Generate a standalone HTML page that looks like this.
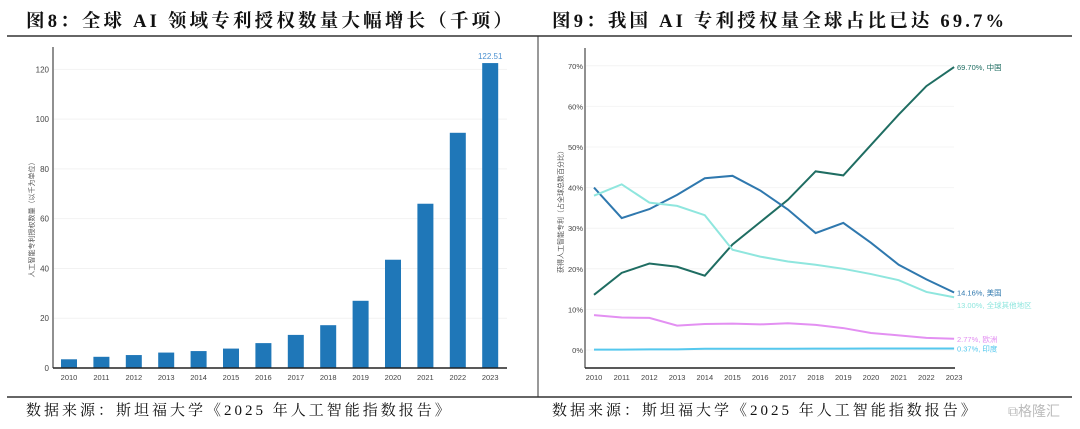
<!DOCTYPE html>
<html><head><meta charset="utf-8">
<style>
body{margin:0;width:1080px;height:429px;background:#fff;overflow:hidden;position:relative;font-family:"Liberation Serif","Noto Serif CJK SC",serif}
.t{position:absolute;font-weight:bold;font-size:18.5px;color:#111;top:7px;white-space:nowrap;letter-spacing:3.2px}
.f{position:absolute;font-size:15px;color:#111;top:399px;white-space:nowrap;letter-spacing:3px}
svg{position:absolute;left:0;top:0}
</style></head><body>
<div class="t" style="left:26px">图8：全球 AI 领域专利授权数量大幅增长（千项）</div>
<div class="t" style="left:552px">图9：我国 AI 专利授权量全球占比已达 69.7%</div>
<div class="f" style="left:26px">数据来源：斯坦福大学《2025 年人工智能指数报告》</div>
<div class="f" style="left:552px">数据来源：斯坦福大学《2025 年人工智能指数报告》</div>
<div style="position:absolute;left:1008px;top:401px;font:14px 'Liberation Sans','Noto Sans CJK SC',sans-serif;color:#bbb">⧉格隆汇</div>
<svg width="1080" height="429" id="s" style="font-family:'Liberation Sans','Noto Sans CJK SC',sans-serif">
<line x1="7" y1="36" x2="1072" y2="36" stroke="#333" stroke-width="1.5"/>
<line x1="7" y1="397" x2="1072" y2="397" stroke="#333" stroke-width="1.5"/>
<line x1="538" y1="36" x2="538" y2="397" stroke="#333" stroke-width="1"/>
</svg>
<script>
const years=['2010','2011','2012','2013','2014','2015','2016','2017','2018','2019','2020','2021','2022','2023'];
const patents=[3.5,4.5,5.2,6.2,6.8,7.8,10,13.3,17.2,27,43.5,66,94.5,122.51];
const leftTicks=[0,20,40,60,80,100,120];
const china=[13.6,19,21.3,20.5,18.3,26,31.5,37,44,43,50.5,58,65,69.7];
const us=[40,32.5,34.7,38.2,42.3,42.9,39.3,34.6,28.8,31.3,26.4,21,17.4,14.16];
const rest=[38,40.8,36.3,35.5,33.2,24.7,23,21.8,21,20,18.7,17.2,14.3,13];
const europe=[8.6,8,7.9,6,6.4,6.5,6.3,6.6,6.2,5.4,4.2,3.6,3,2.77];
const india=[0.1,0.1,0.15,0.15,0.3,0.3,0.3,0.3,0.35,0.35,0.37,0.37,0.37,0.37];
const rightTicks=[0,10,20,30,40,50,60,70];
const endLabels=['69.70%, 中国','14.16%, 美国','13.00%, 全球其他地区','2.77%, 欧洲','0.37%, 印度'];

const s=document.getElementById('s');const NS='http://www.w3.org/2000/svg';
function el(t,a,txt){const e=document.createElementNS(NS,t);for(const k in a)e.setAttribute(k,a[k]);if(txt!==undefined)e.textContent=txt;s.appendChild(e);return e;}
// left
const lx=i=>69+i*32.4, ly=v=>368-v*2.489;
leftTicks.forEach(v=>{
 const g=el('line',{x1:54,x2:507,y1:ly(v),y2:ly(v),stroke:'#f2f2f2'});
 
 const t=el('text',{x:49,y:ly(v)+3,'font-size':8,'text-anchor':'end',fill:'#444'},v);
 
});
patents.forEach((v,i)=>{
 const r=el('rect',{x:lx(i)-8,y:ly(v),width:16,height:368-ly(v),fill:'#1f77b8'});
 
 const t=el('text',{x:lx(i),y:380,'font-size':7.5,'text-anchor':'middle',fill:'#444'},years[i]);
 
});
let vl=el('text',{x:lx(13),y:ly(patents[13])-4,'font-size':8,'text-anchor':'middle',fill:'#4a90d0'},patents[13].toFixed(2));

let a1=el('line',{x1:53,x2:53,y1:47,y2:368,stroke:'#222'});
let a2=el('line',{x1:53,x2:507,y1:368,y2:368,stroke:'#222','stroke-width':1.5});
let yt=el('text',{x:0,y:0,'font-size':7,fill:'#555','text-anchor':'middle',transform:'translate(34,218) rotate(-90)'},'人工智能专利授权数量（以千为单位）');

// right
const rx=i=>594+i*27.7, ry=v=>350-v*4.06;
rightTicks.forEach(v=>{
 const g=el('line',{x1:586,x2:954,y1:ry(v),y2:ry(v),stroke:'#f4f4f4'});
 
 const t=el('text',{x:583,y:ry(v)+3,'font-size':7.5,'text-anchor':'end',fill:'#444'},v+'%');
 
});
years.forEach((y,i)=>{const t=el('text',{x:rx(i),y:380,'font-size':7.5,'text-anchor':'middle',fill:'#444'},y);
 });
const series=[[china,'#1f6d62','china-line'],[us,'#2f78ae','us-line'],[rest,'#8fe6de','rest-of-world-line'],[europe,'#e390f2','europe-line'],[india,'#55c8ee','india-line']];
series.forEach(([d,c,n],k)=>{
 const p=el('polyline',{points:d.map((v,i)=>rx(i)+','+ry(v)).join(' '),fill:'none',stroke:c,'stroke-width':2});
 
 let ly2=ry(d[13])+3; if(k==2)ly2+=8;
 const t=el('text',{x:957,y:ly2,'font-size':7.5,fill:c},endLabels[k]);
 
});
let b1=el('line',{x1:585,x2:585,y1:48,y2:368,stroke:'#222'});
let b2=el('line',{x1:585,x2:955,y1:368,y2:368,stroke:'#222','stroke-width':1.5});
let yt2=el('text',{x:0,y:0,'font-size':7,fill:'#555','text-anchor':'middle',transform:'translate(563,210) rotate(-90)'},'获得人工智能专利（占全球总数百分比）');

</script>
</body></html>
